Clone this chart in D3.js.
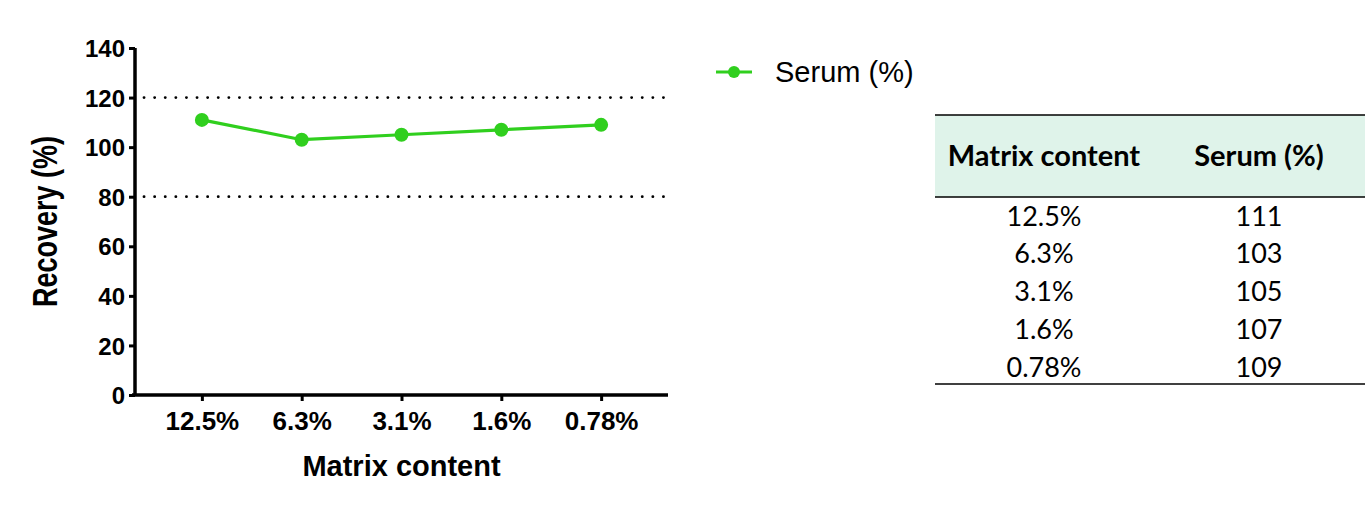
<!DOCTYPE html>
<html>
<head>
<meta charset="utf-8">
<script src="https://cdn.jsdelivr.net/npm/d3@7"></script>
<style>
  body { margin: 0; background: #fff; }
  svg { display: block; }
</style>
</head>
<body>
<div id="chart"></div>
<script>
// data
var categories = ["12.5%", "6.3%", "3.1%", "1.6%", "0.78%"];
var serum = [111, 103, 105, 107, 109];
var yTicks = [0, 20, 40, 60, 80, 100, 120, 140];
var limits = [80, 120];
var tableHead = ["Matrix content", "Serum (%)"];
var seriesName = "Serum (%)";

var W = 1365, H = 507;
var green = "#30cf1e";
var arial = "'Liberation Sans', Arial, sans-serif";

var svg = d3.select("#chart").append("svg")
  .attr("width", W).attr("height", H);

// plot area
var x0 = 135, x1 = 668, yTop = 48, yBot = 395;

var x = d3.scalePoint()
  .domain(categories)
  .range([x0, x1])
  .padding(0.67);

var y = d3.scaleLinear()
  .domain([0, 140])
  .range([yBot, yTop]);

// dotted limit lines
svg.selectAll(".limit")
  .data(limits).enter()
  .append("line")
  .attr("x1", x0 + 9).attr("x2", x1)
  .attr("y1", function(d) { return y(d); })
  .attr("y2", function(d) { return y(d); })
  .attr("stroke", "#000")
  .attr("stroke-width", 2.8)
  .attr("stroke-linecap", "round")
  .attr("stroke-dasharray", "0.1 10.5");

// y axis
var gy = svg.append("g")
  .attr("transform", "translate(" + x0 + ",0)")
  .call(d3.axisLeft(y).tickValues(yTicks).tickSize(6).tickPadding(4).tickSizeOuter(0));

// x axis
var gx = svg.append("g")
  .attr("transform", "translate(0," + yBot + ")")
  .call(d3.axisBottom(x).tickSize(6).tickSizeOuter(0));

[gx, gy].forEach(function(g) {
  g.select(".domain").attr("stroke", "#000").attr("stroke-width", 3.5);
  g.selectAll(".tick line").attr("stroke", "#000").attr("stroke-width", 3);
  g.selectAll(".tick text")
    .attr("fill", "#000")
    .style("font-family", arial)
    .style("font-weight", "bold");
});
gy.selectAll(".tick text").style("font-size", "24px").attr("dy", "0.36em");
gx.selectAll(".tick text").style("font-size", "26px").attr("y", 35).attr("dy", 0);

// axis lines meet in the corner
gx.select(".domain").attr("d", "M" + (x0 - 3) + ",0H" + x1);
gy.select(".domain").attr("d", "M0," + (yBot + 1) + "V" + yTop);

// axis titles
svg.append("text")
  .attr("transform", "translate(57," + ((yTop + yBot) / 2) + ") rotate(-90) scale(1,1.3)")
  .attr("text-anchor", "middle")
  .style("font-family", arial)
  .style("font-weight", "bold")
  .style("font-size", "27px")
  .text("Recovery (%)");

svg.append("text")
  .attr("x", (x0 + x1) / 2)
  .attr("y", 476)
  .attr("text-anchor", "middle")
  .style("font-family", arial)
  .style("font-weight", "bold")
  .style("font-size", "29px")
  .text("Matrix content");

// series line and markers
var line = d3.line()
  .x(function(d, i) { return x(categories[i]); })
  .y(function(d) { return y(d); });

svg.append("path")
  .datum(serum)
  .attr("d", line)
  .attr("fill", "none")
  .attr("stroke", green)
  .attr("stroke-width", 3.2);

svg.selectAll(".pt")
  .data(serum).enter()
  .append("circle")
  .attr("cx", function(d, i) { return x(categories[i]); })
  .attr("cy", function(d) { return y(d); })
  .attr("r", 7)
  .attr("fill", green);

// legend
var lg = svg.append("g").attr("transform", "translate(716,72)");
lg.append("line").attr("x1", 0).attr("x2", 36).attr("y1", 0).attr("y2", 0)
  .attr("stroke", green).attr("stroke-width", 3.2);
lg.append("circle").attr("cx", 18).attr("cy", 0).attr("r", 6).attr("fill", green);
lg.append("text").attr("x", 59).attr("y", 0).attr("dy", "0.36em")
  .style("font-family", arial)
  .style("font-size", "29px")
  .text(seriesName);

// data table
var tx0 = 935, tx1 = 1365, tTop = 115, tHeadBot = 197, tBot = 384;
var colX = [1044, 1259];
var tableFont = "Lato, 'Open Sans', sans-serif";

svg.append("rect")
  .attr("x", tx0).attr("y", tTop)
  .attr("width", tx1 - tx0).attr("height", tHeadBot - tTop)
  .attr("fill", "#dff3ea");

[tTop, tHeadBot, tBot].forEach(function(yy) {
  svg.append("line")
    .attr("x1", tx0).attr("x2", tx1)
    .attr("y1", yy).attr("y2", yy)
    .attr("stroke", "#000").attr("stroke-width", 1.3);
});

svg.selectAll(".th")
  .data(tableHead).enter()
  .append("text")
  .attr("x", function(d, i) { return colX[i]; })
  .attr("y", (tTop + tHeadBot) / 2)
  .attr("dy", "0.36em")
  .attr("text-anchor", "middle")
  .style("font-family", tableFont)
  .style("font-weight", "bold")
  .style("font-size", "29px")
  .text(function(d) { return d; });

var rowY = d3.scalePoint()
  .domain(categories)
  .range([216, 367]);

var rows = svg.selectAll(".row")
  .data(categories).enter()
  .append("g")
  .attr("transform", function(d) { return "translate(0," + rowY(d) + ")"; });

rows.append("text")
  .attr("x", colX[0]).attr("dy", "0.36em")
  .attr("text-anchor", "middle")
  .style("font-family", tableFont)
  .style("font-size", "27px")
  .text(function(d) { return d; });

rows.append("text")
  .attr("x", colX[1]).attr("dy", "0.36em")
  .attr("text-anchor", "middle")
  .style("font-family", tableFont)
  .style("font-size", "27px")
  .text(function(d, i) { return serum[i]; });
</script>
</body>
</html>
